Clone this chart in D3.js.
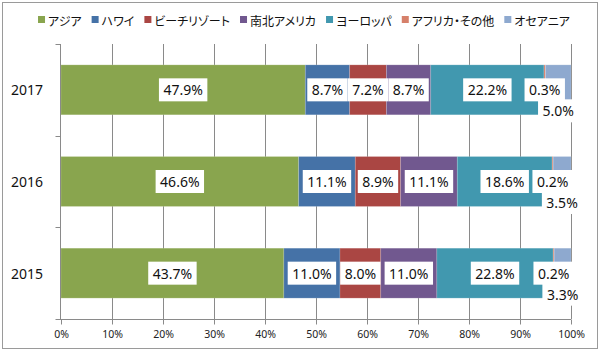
<!DOCTYPE html>
<html><head><meta charset="utf-8">
<script src="https://cdn.jsdelivr.net/npm/d3@7"></script>
<style>
html,body{margin:0;padding:0;background:#fff;}
svg{display:block;}
.leg{font-feature-settings:"palt" 1;}
</style></head>
<body>
<svg id="c" width="600" height="352"></svg>
<script>
const years = ["2017", "2016", "2015"];
const seriesNames = ["アジア", "ハワイ", "ビーチリゾート", "南北アメリカ", "ヨーロッパ", "アフリカ・その他", "オセアニア"];
const colors = ["#89A54E", "#4572A7", "#AA4643", "#71588F", "#4198AF", "#D6806A", "#8EA9CF"];
const asia     = [47.9, 46.6, 43.7];
const hawaii   = [8.7, 11.1, 11.0];
const beach    = [7.2, 8.9, 8.0];
const americas = [8.7, 11.1, 11.0];
const europe   = [22.2, 18.6, 22.8];
const africa   = [0.3, 0.2, 0.2];
const oceania  = [5.0, 3.5, 3.3];
const xTicks = [0,10,20,30,40,50,60,70,80,90,100];

const seriesVals = [asia, hawaii, beach, americas, europe, africa, oceania];
const rows = years.map((y, i) => {
  const o = {year: y};
  seriesNames.forEach((s, j) => o[s] = seriesVals[j][i]);
  return o;
});
const stacked = d3.stack().keys(seriesNames)(rows);

const svg = d3.select("#c");
const L = 61, R = 571, T = 44, B = 319;
const x = d3.scaleLinear().domain([0, 100]).range([L, R]);
const y = d3.scaleBand().domain(years).range([T, B]).paddingInner(0.455).paddingOuter(0.2275);
const grey = "#8a8a8a";
const numFont = "'Noto Sans', 'Open Sans', sans-serif";

// border
svg.append("rect").attr("x", 2.5).attr("y", 2.5).attr("width", 595).attr("height", 346)
  .attr("fill", "#fff").attr("stroke", "#9a9a9a").attr("stroke-width", 1);

// gridlines
svg.append("g").selectAll("line").data(xTicks.filter(d => d > 0)).join("line")
  .attr("x1", d => Math.round(x(d)) + 0.5).attr("x2", d => Math.round(x(d)) + 0.5)
  .attr("y1", T).attr("y2", B)
  .attr("stroke", grey).attr("stroke-width", 1);

// bars
const gBars = svg.append("g");
stacked.forEach((s, j) => {
  gBars.append("g").selectAll("rect").data(s).join("rect")
    .attr("x", d => x(d[0])).attr("width", d => x(d[1]) - x(d[0]))
    .attr("y", d => y(d.data.year)).attr("height", y.bandwidth())
    .attr("fill", colors[j])
    .attr("stroke", "rgba(255,255,255,0.2)").attr("stroke-width", 0.8);
});

// x axis
const xAxis = d3.axisBottom(x).tickValues(xTicks).tickFormat(d => d + "%").tickSize(5).tickPadding(6);
const gx = svg.append("g").attr("transform", `translate(0,${B + 0.5})`).call(xAxis);
gx.select(".domain").attr("d", `M${L - 5},0H${R}`).attr("stroke", grey);
gx.selectAll(".tick line").attr("stroke", grey);
gx.selectAll(".tick text").attr("font-family", numFont).attr("font-size", 10.5).attr("fill", "#222");

// y axis
const gy = svg.append("g").attr("transform", `translate(${L - 0.5},0)`);
gy.append("line").attr("x1", 0).attr("x2", 0).attr("y1", T).attr("y2", B).attr("stroke", grey);
const bounds = years.map(yy => y(yy) - y.step() * y.paddingInner() / 2).concat([B]);
bounds[0] = T;
gy.selectAll("line.t").data(bounds).join("line").attr("class", "t")
  .attr("x1", -5).attr("x2", 0).attr("y1", d => Math.round(d) + 0.5).attr("y2", d => Math.round(d) + 0.5)
  .attr("stroke", grey);
svg.append("g").selectAll("text").data(years).join("text")
  .attr("x", 27).attr("y", d => y(d) + y.bandwidth() / 2)
  .attr("text-anchor", "middle").attr("dominant-baseline", "central")
  .attr("font-family", numFont).attr("font-size", 14).attr("fill", "#111")
  .text(d => d);

// data labels
const gLab = svg.append("g");
stacked.forEach((s, j) => {
  s.forEach(d => {
    const cx = x((d[0] + d[1]) / 2);
    const isLast = j === seriesNames.length - 1;
    const cy = y(d.data.year) + y.bandwidth() / 2 + (isLast ? 21 : 0);
    const g = gLab.append("g");
    const t = g.append("text").attr("x", cx).attr("y", cy)
      .attr("text-anchor", "middle").attr("dominant-baseline", "central")
      .attr("font-family", numFont).attr("font-size", 14).attr("fill", "#111")
      .text((d[1] - d[0]).toFixed(1) + "%");
    const w = t.node().getComputedTextLength();
    g.insert("rect", "text").attr("x", cx - w / 2 - 4.5).attr("y", cy - 11.5)
      .attr("width", w + 9).attr("height", 23).attr("fill", "#fff");
  });
});

// legend
const gLeg = svg.append("g");
let cur = 0;
seriesNames.forEach((n, j) => {
  const it = gLeg.append("g").attr("transform", `translate(${cur},0)`);
  it.append("rect").attr("x", 0).attr("y", 16).attr("width", 7).attr("height", 7).attr("fill", colors[j]);
  const t = it.append("text").attr("class", "leg").attr("x", 10).attr("y", 20).attr("dominant-baseline", "central")
    .attr("font-family", "'Noto Sans CJK JP', sans-serif").attr("font-size", 12).attr("fill", "#111")
    .text(n);
  cur += 10 + t.node().getComputedTextLength() + 10;
});
const legW = cur - 10;
gLeg.attr("transform", `translate(${304 - legW / 2},0)`);
</script>
</body></html>
